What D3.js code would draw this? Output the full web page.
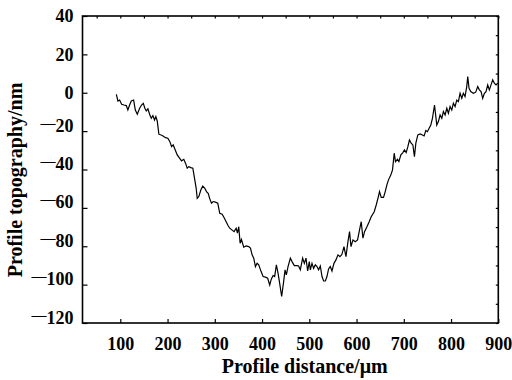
<!DOCTYPE html>
<html>
<head>
<meta charset="utf-8">
<script src="https://cdn.jsdelivr.net/npm/d3@7"></script>
<style>
  body { margin: 0; background: #fff; }
  text { font-family: "Liberation Serif", "Times New Roman", serif; font-weight: bold; }
</style>
</head>
<body>
<div id="chart"></div>
<script>
// profile data
const distance = [
  91.6, 95, 98.6, 102.8, 107.7, 112.7, 116, 119.7, 123.3, 128.2, 131.8, 136, 140.9, 145, 148.7,
  152, 155, 158.4, 162.6, 165.6, 169, 172.5, 175.3, 178.2, 181.6, 188.8, 195.8, 200.6, 204.9,
  208.5, 212, 215.4, 220.5, 225.4, 229.6, 234.4, 238, 241.6, 245, 249.2, 253.5, 257.1, 260.6,
  262.8, 266.2, 270.4, 274.6, 278.8, 282.4, 286, 289.4, 293, 296.6, 301.4, 306.3, 310.5, 315.6,
  319.8, 324, 328.3, 331.6, 336.7, 340.9, 345.2, 347.9, 350.7, 353.6, 356.4, 361.2, 366.3,
  371.8, 375.4, 379, 382.4, 386, 389.5, 393, 398, 402.2, 407.1, 411.9, 416.2, 419.7, 423.3,
  426.7, 430.3, 433.9, 437.3, 441.5, 445.7, 448.7, 451.4, 455, 459.9, 463.5, 468.3, 474, 477.4,
  481, 485.9, 489.5, 493, 496.5, 500, 502.2, 505.7, 509.1, 512.7, 516.3, 519.7, 523.3, 526.9,
  530.3, 533.9, 537.4, 540.8, 544.4, 548, 552.2, 556.4, 560.7, 564.9, 569.1, 573.4, 577.6,
  581.8, 585.2, 588.2, 592.4, 597.2, 602.1, 606.3, 609.9, 613.5, 616.9, 622, 626.8, 631, 637.4,
  641.6, 645.8, 648.6, 652.2, 657.1, 660.7, 664.2, 667.6, 672.7, 676.1, 679.7, 682.4, 686.7,
  689.6, 693.8, 698, 701.4, 705, 708.6, 712, 715.6, 719.2, 722.5, 725.5, 729.7, 734.6, 739.4,
  743, 746.6, 750, 753.6, 757.2, 760.6, 765, 769.8, 773.2, 776.8, 780.4, 783.8, 787.4, 791,
  794.4, 797.9, 801.5, 804.9, 808.5, 812.1, 815.5, 819.1, 822.7, 826, 829.6, 833.2, 835.3,
  838.1, 841.7, 847.2, 852.2, 856.4, 859.9, 863.5, 867, 870.5, 874, 877.6, 881, 884.6, 888.2,
  891.6, 895.2, 898.7
];
const topography = [
  -0.8, -4.3, -3.8, -6, -6.4, -6.7, -9, -6.4, -4.3, -3.8, -9, -11.2, -8.1, -6.4, -5.5,
  -8.1, -9.5, -8.4, -11.6, -13.3, -11.9, -14.2, -12.4, -14.7, -21.6, -22.3, -23.4, -23.7, -25.5,
  -28.1, -27.2, -29.3, -32.4, -34.1, -35.5, -34.7, -36.7, -39.3, -38.5, -39, -39.3, -44.6, -49.8,
  -55, -54.1, -50.7, -48.6, -49.8, -51.5, -52.4, -55.3, -57.6, -56.7, -57, -57.6, -62.8, -63.3,
  -65.1, -67.2, -69.3, -70.6, -71.6, -72.4, -70.6, -73.2, -69.8, -78.4, -76.5, -80.5, -79.8,
  -80.2, -81, -84.5, -86.2, -90.6, -88.9, -89.7, -93.2, -95.8, -96.1, -96.7, -100.2, -97, -95.3,
  -95.8, -89.7, -94.1, -99.3, -106.2, -98.4, -92.3, -94.9, -90.6, -86.2, -88, -90.1, -90.1, -90.3,
  -92.3, -86.2, -88.9, -86.2, -92.9, -88, -92.3, -88.9, -91.5, -89.7, -90.6, -92.3, -90.3, -95.8,
  -98.1, -98.1, -95.8, -91.8, -90.6, -92.9, -88.9, -87.1, -84.5, -85.4, -84.2, -80.2, -85.4,
  -77.6, -72.4, -80.2, -76.7, -77.6, -76.7, -71.5, -67.2, -75.8, -72.4, -69.8, -67.2, -64.6, -62,
  -58.5, -54.5, -51.5, -54.5, -54.5, -51.5, -48, -45.4, -42.8, -40.2, -31.5, -35.9, -34.7,
  -35.9, -32.4, -31.2, -29.8, -31.2, -28.1, -24.6, -26.3, -27.2, -33.3, -26.3, -22, -21.5, -22,
  -22.5, -19.7, -20.3, -18.5, -16.8, -13.3, -6.4, -16.8, -15, -11.6, -13.3, -9.8, -11.6, -8.1,
  -10.7, -7.2, -9, -5.5, -7.2, -3.8, -4.6, -0.3, -2.9, -0.3, -2, 3.2, 8.4,
  2.3, 0.6, -0.3, 0.3, 3.2, 1.5, 0.6, -2.9, -0.3, 0.6, 4.1, 1.5, 4.1, 6.7,
  5, 4.1, 5
];
const xTicks = [100, 200, 300, 400, 500, 600, 700, 800, 900];
const yTicks = [-120, -100, -80, -60, -40, -20, 0, 20, 40];
const xMinorTicks = d3.range(50, 901, 50);
const yMinorTicks = d3.range(-120, 41, 10);

const W = 512, H = 380;
const margin = { top: 16, right: 13.7, bottom: 57, left: 82.5 };
const width = W - margin.left - margin.right;
const height = H - margin.top - margin.bottom;

const svg = d3.select('#chart').append('svg')
  .attr('width', W).attr('height', H);
const g = svg.append('g')
  .attr('transform', `translate(${margin.left},${margin.top})`);

const x = d3.scaleLinear().domain([20, 900]).range([0, width]);
const y = d3.scaleLinear().domain([-120, 40]).range([height, 0]);

// bottom axis
const xAxis = g.append('g')
  .attr('transform', `translate(0,${height})`)
  .call(d3.axisBottom(x).tickValues(xTicks).tickSize(-4).tickPadding(14).tickFormat(d3.format('d')));
xAxis.select('.domain').remove();

// top minor ticks
const topAxis = g.append('g')
  .call(d3.axisTop(x).tickValues(xMinorTicks).tickSize(-2.5).tickFormat(''));
topAxis.select('.domain').remove();

// left axis
const yAxis = g.append('g')
  .call(d3.axisLeft(y).tickValues(yTicks).tickSize(-5).tickPadding(9).tickFormat(''));
yAxis.select('.domain').remove();
// labels with the wide minus used in the original
yAxis.selectAll('.tick text').each(function (d) {
  const t = d3.select(this);
  if (d < 0) {
    t.append('tspan').attr('class', 'minus').attr('dy', -4).text('\u2014');
    t.append('tspan').attr('dy', 4).text(Math.abs(d));
  } else {
    t.text(d);
  }
});

// right minor ticks
const rightAxis = g.append('g')
  .attr('transform', `translate(${width},0)`)
  .call(d3.axisRight(y).tickValues(yMinorTicks).tickSize(-2.5).tickFormat(''));
rightAxis.select('.domain').remove();

g.selectAll('.tick line').attr('stroke', '#000').attr('stroke-width', 1.2);
g.selectAll('.tick text')
  .attr('fill', '#000')
  .style('font-size', '18px');
yAxis.selectAll('tspan.minus').style('font-size', '15px');

// frame
g.append('rect')
  .attr('width', width).attr('height', height)
  .attr('fill', 'none').attr('stroke', '#000').attr('stroke-width', 1.6);

// profile line
const points = distance.map((d, i) => [d, topography[i]]);
g.append('path')
  .datum(points)
  .attr('fill', 'none')
  .attr('stroke', '#000')
  .attr('stroke-width', 1.2)
  .attr('stroke-linejoin', 'miter')
  .attr('d', d3.line().x(d => x(d[0])).y(d => y(d[1])));

// axis titles
svg.append('text')
  .attr('x', 304.7).attr('y', 373)
  .attr('text-anchor', 'middle')
  .style('font-size', '20px')
  .text('Profile distance/\u03bcm');

svg.append('text')
  .attr('transform', 'translate(22,180) rotate(-90)')
  .attr('text-anchor', 'middle')
  .style('font-size', '20px')
  .text('Profile topography/nm');
</script>
</body>
</html>
